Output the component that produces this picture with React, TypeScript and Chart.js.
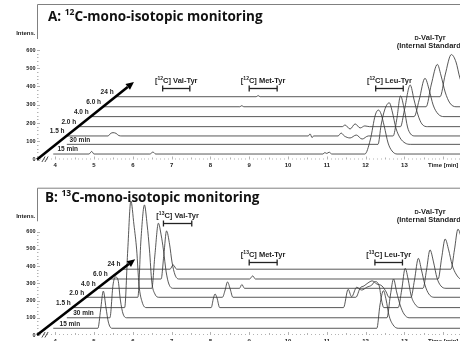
import React, { useEffect, useRef } from "react";
import { Chart, registerables } from "chart.js";

Chart.register(...registerables);

type Pt = [number, number];

// ---------- text / categories ----------
const TRACE_LABELS = ["15 min", "30 min", "1.5 h", "2.0 h", "4.0 h", "6.0 h", "24 h"];
const X_TICKS = [4, 5, 6, 7, 8, 9, 10, 11, 12, 13, 14];
const X_LAST_LABEL = "Time [min]";
const Y_TICKS = [0, 100, 200, 300, 400, 500, 600];
const Y_TITLE = "Intens.";
const Y_TITLE_AT = 690;
const COMPOUNDS = ["Val-Tyr", "Met-Tyr", "Leu-Tyr"];
const IS_LINE1 = "-Val-Tyr";
const IS_LINE2 = "(Internal Standard)";
const TITLE_REST = "C-mono-isotopic monitoring";

// ---------- panel A: 12C traces [time (min), intensity incl. waterfall offset] ----------
const A_15MIN: Pt[] = [[3.95, 30], [4.87, 30], [4.94, 44], [5.0, 30], [6.44, 30], [6.52, 41], [6.59, 30], [10.9, 30], [10.95, 38], [11.0, 33], [11.06, 40], [11.13, 30], [11.98, 30], [12.12, 107], [12.25, 244], [12.33, 271], [12.4, 249], [12.48, 183], [12.58, 90], [12.68, 47], [12.81, 30], [14.8, 30]];
const A_30MIN: Pt[] = [[4.3, 83], [12.32, 83], [12.4, 189], [12.49, 271], [12.61, 311], [12.69, 260], [12.78, 173], [12.89, 118], [13.02, 90], [13.15, 83], [14.8, 83]];
const A_1_5H: Pt[] = [[4.3, 129], [5.36, 129], [5.43, 143], [5.49, 147], [5.57, 143], [5.64, 131], [5.72, 129], [10.52, 129], [10.57, 140], [10.62, 120], [10.66, 129], [11.29, 129], [11.37, 145], [11.45, 129], [11.6, 118], [11.76, 134], [11.91, 112], [12.07, 129], [12.71, 129], [12.8, 216], [12.9, 348], [13.0, 271], [13.08, 178], [13.16, 140], [13.27, 129], [14.8, 129]];
const A_2H: Pt[] = [[4.6, 180], [11.4, 180], [11.47, 189], [11.6, 167], [11.73, 195], [11.86, 173], [11.98, 184], [12.1, 180], [12.9, 180], [13.0, 271], [13.15, 408], [13.25, 326], [13.35, 244], [13.45, 195], [13.6, 180], [14.8, 180]];
const A_4H: Pt[] = [[4.92, 235], [13.25, 235], [13.38, 326], [13.53, 445], [13.64, 381], [13.74, 299], [13.87, 249], [14.02, 235], [14.8, 235]];
const A_6H: Pt[] = [[5.24, 289], [8.76, 289], [8.81, 295], [8.86, 289], [13.56, 289], [13.69, 408], [13.85, 521], [13.94, 463], [14.05, 370], [14.17, 310], [14.33, 289], [14.8, 289]];
const A_24H: Pt[] = [[5.56, 344], [9.18, 344], [9.23, 350], [9.28, 344], [13.92, 344], [14.05, 463], [14.21, 575], [14.33, 534], [14.43, 447], [14.56, 381], [14.8, 350]];

// ---------- panel B: 13C traces ----------
const B_15MIN: Pt[] = [[3.95, 39], [5.1, 39], [5.17, 145], [5.24, 255], [5.31, 157], [5.37, 75], [5.46, 39], [12.29, 39], [12.37, 174], [12.46, 257], [12.53, 203], [12.6, 116], [12.71, 58], [12.84, 39], [14.8, 39]];
const B_30MIN: Pt[] = [[4.3, 100], [5.41, 100], [5.49, 290], [5.55, 337], [5.62, 319], [5.68, 203], [5.75, 122], [5.85, 100], [12.55, 100], [12.64, 232], [12.72, 325], [12.8, 250], [12.89, 174], [12.99, 122], [13.12, 100], [14.8, 100]];
const B_1_5H: Pt[] = [[4.44, 159], [5.79, 159], [5.87, 494], [5.95, 778], [6.03, 639], [6.1, 494], [6.16, 290], [6.24, 192], [6.34, 159], [8.02, 159], [8.08, 215], [8.12, 238], [8.17, 215], [8.24, 159], [11.43, 159], [11.55, 265], [11.64, 222], [11.77, 277], [11.9, 261], [12.03, 277], [12.16, 290], [12.24, 310], [12.35, 285], [12.41, 203], [12.47, 159], [12.84, 159], [12.93, 261], [13.02, 387], [13.1, 319], [13.17, 232], [13.27, 180], [13.4, 159], [14.8, 159]];
const B_2H: Pt[] = [[4.79, 219], [6.13, 219], [6.21, 552], [6.3, 755], [6.37, 639], [6.43, 494], [6.49, 308], [6.57, 238], [6.67, 219], [8.31, 219], [8.38, 261], [8.44, 308], [8.51, 267], [8.58, 219], [11.75, 219], [11.86, 273], [11.96, 285], [12.06, 302], [12.17, 314], [12.29, 296], [12.42, 285], [12.53, 250], [12.6, 219], [13.17, 219], [13.26, 319], [13.36, 445], [13.44, 377], [13.53, 290], [13.63, 238], [13.76, 219], [14.8, 219]];
const B_4H: Pt[] = [[5.09, 271], [6.49, 271], [6.57, 465], [6.66, 649], [6.73, 581], [6.79, 494], [6.86, 366], [6.93, 296], [7.04, 271], [8.75, 271], [8.81, 293], [8.88, 271], [13.48, 271], [13.57, 377], [13.66, 494], [13.75, 424], [13.84, 331], [13.94, 285], [14.07, 271], [14.8, 271]];
const B_6H: Pt[] = [[5.4, 325], [6.73, 325], [6.8, 465], [6.87, 604], [6.95, 523], [7.01, 424], [7.09, 348], [7.19, 325], [9.01, 325], [9.09, 343], [9.16, 325], [13.87, 325], [13.96, 447], [14.05, 557], [14.14, 494], [14.23, 407], [14.33, 354], [14.46, 325], [14.8, 325]];
const B_24H: Pt[] = [[5.72, 382], [6.96, 382], [7.04, 407], [7.13, 382], [14.2, 382], [14.29, 494], [14.38, 614], [14.48, 552], [14.61, 447], [14.8, 400]];

// ---------- annotation anchors (data units) ----------
const A_WINDOWS: Pt[] = [[6.77, 7.47], [9.0, 9.72], [12.26, 12.97]];
const A_BRACKET_Y = [390, 390, 390];
const B_WINDOWS: Pt[] = [[6.79, 7.52], [9.0, 9.72], [12.24, 12.95]];
const B_BRACKET_Y = [652, 424, 424];
const IS_LABEL_T = 13.66;
const A_IS_Y = 670;
const B_IS_Y = 716;
const A_ARROW_TIP: Pt = [6.03, 425];
const B_ARROW_TIP: Pt = [6.06, 440];
const X_MIN = 3.531;
const X_MAX = 14.433;
const FRAME_LOW = 660;

const FONT = '"Liberation Sans", Arial, sans-serif';
const TITLE_FONT = '"Open Sans", "Liberation Sans", sans-serif';

type Seg = [string, number, number];

function drawRich(ctx: CanvasRenderingContext2D, segs: Seg[], x: number, y: number, align: string, family = FONT) {
  const widths = segs.map(([t, s]) => {
    ctx.font = `bold ${s}px ${family}`;
    return ctx.measureText(t).width;
  });
  const total = widths.reduce((a, b) => a + b, 0);
  let cx = align === "center" ? x - total / 2 : align === "right" ? x - total : x;
  ctx.textAlign = "left";
  ctx.textBaseline = "alphabetic";
  segs.forEach(([t, s, rise], i) => {
    ctx.font = `bold ${s}px ${family}`;
    ctx.fillText(t, cx, y - rise);
    cx += widths[i];
  });
}

function line(ctx: CanvasRenderingContext2D, a: number, b: number, c: number, d: number) {
  ctx.beginPath();
  ctx.moveTo(a, b);
  ctx.lineTo(c, d);
  ctx.stroke();
}

interface Panel {
  letter: string;
  iso: string;
  traces: Pt[][];
  windows: Pt[];
  bracketY: number[];
  isY: number;
  tip: Pt;
  padTop: number;
  xAxisH: number;
  yMax: number;
  titleDx: number;
  titleDy: number;
}

const PANELS: Panel[] = [
  { letter: "A", iso: "12", traces: [A_15MIN, A_30MIN, A_1_5H, A_2H, A_4H, A_6H, A_24H], windows: A_WINDOWS, bracketY: A_BRACKET_Y, isY: A_IS_Y, tip: A_ARROW_TIP, padTop: 4, xAxisH: 15.5, yMax: 852, titleDx: 11, titleDy: 16.7 },
  { letter: "B", iso: "13", traces: [B_15MIN, B_30MIN, B_1_5H, B_2H, B_4H, B_6H, B_24H], windows: B_WINDOWS, bracketY: B_BRACKET_Y, isY: B_IS_Y, tip: B_ARROW_TIP, padTop: 15.7, xAxisH: 22, yMax: 855, titleDx: 8, titleDy: 13.8 },
];

function decor(panel: Panel) {
  return {
    id: "decor" + panel.letter,
    beforeDatasetsDraw(chart: any) {
      const { ctx, chartArea, scales } = chart;
      const { left, right, top, bottom } = chartArea;
      const x = scales.x, y = scales.y;
      ctx.save();
      ctx.strokeStyle = "#808080";
      ctx.lineWidth = 1;
      ctx.beginPath();
      ctx.moveTo(left + 0.5, y.getPixelForValue(FRAME_LOW));
      ctx.lineTo(left + 0.5, top + 0.5);
      ctx.lineTo(right, top + 0.5);
      ctx.stroke();
      ctx.strokeStyle = "#a0a0a0";
      ctx.lineWidth = 0.8;
      for (let v = 0; v <= 600; v += 20) {
        const py = Math.round(y.getPixelForValue(v)) + 0.5;
        line(ctx, left, py, left + (v % 100 === 0 ? 3 : 1.5), py);
      }
      for (let k = Math.ceil(X_MIN * 10); k <= X_MAX * 10; k++) {
        const px = Math.round(x.getPixelForValue(k / 10)) + 0.5;
        const len = k % 10 === 0 ? 3 : k % 5 === 0 ? 2 : 1;
        line(ctx, px, bottom, px, bottom - len);
      }
      ctx.restore();
    },
    afterDatasetsDraw(chart: any) {
      const { ctx, chartArea, scales } = chart;
      const { left, top } = chartArea;
      const x = scales.x, y = scales.y;
      ctx.save();
      // arrow
      const x0 = x.getPixelForValue(X_MIN), y0 = y.getPixelForValue(0);
      const x1 = x.getPixelForValue(panel.tip[0]), y1 = y.getPixelForValue(panel.tip[1]);
      const ang = Math.atan2(y1 - y0, x1 - x0);
      const hl = 8, hw = 3.6;
      const bx = x1 - hl * Math.cos(ang), by = y1 - hl * Math.sin(ang);
      ctx.strokeStyle = "#000";
      ctx.fillStyle = "#000";
      ctx.lineWidth = 2.6;
      line(ctx, x0, y0, bx, by);
      ctx.beginPath();
      ctx.moveTo(x1, y1);
      ctx.lineTo(bx + hw * Math.sin(ang), by - hw * Math.cos(ang));
      ctx.lineTo(bx - hw * Math.sin(ang), by + hw * Math.cos(ang));
      ctx.closePath();
      ctx.fill();
      // axis break
      ctx.lineWidth = 0.9;
      ctx.strokeStyle = "#333";
      [6.5, 9.5].forEach((d) => line(ctx, x0 + d - 1.6, y0 + 2.5, x0 + d + 1.6, y0 - 3));
      // trace labels
      const arrowX = (py: number) => x0 + ((y0 - py) * (x1 - x0)) / (y0 - y1);
      ctx.fillStyle = "#1e1e1e";
      panel.traces.forEach((tr, i) => {
        const ly = y.getPixelForValue(tr[0][1]) - 4.5;
        const ax = arrowX(ly);
        ctx.font = `bold 6.5px ${FONT}`;
        ctx.textBaseline = "middle";
        if (i < 2) {
          ctx.textAlign = "left";
          ctx.fillText(TRACE_LABELS[i], ax + 8, ly);
        } else {
          ctx.textAlign = "right";
          ctx.fillText(TRACE_LABELS[i], ax - 7.5, ly);
        }
      });
      // brackets
      ctx.strokeStyle = "#222";
      ctx.lineWidth = 1.3;
      panel.windows.forEach(([t0, t1], i) => {
        const xa = x.getPixelForValue(t0), xb = x.getPixelForValue(t1);
        const yy = Math.round(y.getPixelForValue(panel.bracketY[i])) + 0.5;
        line(ctx, xa, yy, xb, yy);
        line(ctx, xa, yy - 3, xa, yy + 3);
        line(ctx, xb, yy - 3, xb, yy + 3);
        drawRich(ctx, [["[", 7.5, 0], [panel.iso, 5, 2.6], ["C] " + COMPOUNDS[i], 7.5, 0]], (xa + xb) / 2, yy - 5.5, "center");
      });
      // internal standard label
      const ix = x.getPixelForValue(IS_LABEL_T), iy = y.getPixelForValue(panel.isY);
      drawRich(ctx, [["D", 5.8, 0], [IS_LINE1, 7.5, 0]], ix, iy + 2.7, "center");
      drawRich(ctx, [[IS_LINE2, 7.5, 0]], ix, iy + 10.4, "center");
      // title
      ctx.fillStyle = "#111";
      drawRich(ctx, [[panel.letter + ": ", 13.5, 0], [panel.iso, 8.5, 5.5], [TITLE_REST, 13.5, 0]], left + panel.titleDx, top + panel.titleDy, "left", TITLE_FONT);
      ctx.restore();
    },
  };
}

function makeChart(canvas: HTMLCanvasElement, panel: Panel) {
  return new Chart(canvas, {
    type: "line",
    data: {
      datasets: panel.traces.map((tr, i) => ({
        label: TRACE_LABELS[i],
        data: tr.map(([t, v]) => ({ x: t, y: v })),
        borderColor: "#3a3a3a",
        borderWidth: 0.85,
        pointRadius: 0,
        fill: false,
        cubicInterpolationMode: "monotone" as const,
      })),
    },
    options: {
      animation: false,
      responsive: false,
      devicePixelRatio: 1,
      layout: { padding: { top: panel.padTop, right: 0, bottom: 0, left: 0 } },
      plugins: { legend: { display: false }, tooltip: { enabled: false } },
      scales: {
        x: {
          type: "linear",
          min: X_MIN,
          max: X_MAX,
          afterBuildTicks: (s: any) => {
            s.ticks = X_TICKS.map((v) => ({ value: v }));
          },
          afterFit: (s: any) => {
            s.height = panel.xAxisH;
            s.paddingLeft = 0;
            s.paddingRight = 0;
          },
          ticks: {
            autoSkip: false,
            maxRotation: 0,
            padding: 2.5,
            color: "#222",
            font: { size: 6, weight: "bold", family: FONT },
            callback: (v: any) => (v === X_TICKS[X_TICKS.length - 1] ? X_LAST_LABEL : String(v)),
          },
          grid: { display: false, drawTicks: false },
          border: { display: false },
        },
        y: {
          type: "linear",
          min: 0,
          max: panel.yMax,
          afterBuildTicks: (s: any) => {
            s.ticks = [...Y_TICKS, Y_TITLE_AT].map((v) => ({ value: v }));
          },
          afterFit: (s: any) => {
            s.width = 37;
            s.paddingTop = 0;
            s.paddingBottom = 0;
          },
          ticks: {
            padding: 1.5,
            color: "#222",
            font: (c: any) => ({ size: c.tick && c.tick.value === Y_TITLE_AT ? 6 : 5.5, weight: "bold", family: FONT }),
            callback: (v: any) => (v === Y_TITLE_AT ? Y_TITLE : String(v)),
          },
          grid: { display: false, drawTicks: false },
          border: { display: false },
        },
      },
    } as any,
    plugins: [decor(panel)],
  });
}

export default function App() {
  const refA = useRef<HTMLCanvasElement>(null);
  const refB = useRef<HTMLCanvasElement>(null);
  useEffect(() => {
    const charts = [makeChart(refA.current!, PANELS[0]), makeChart(refB.current!, PANELS[1])];
    return () => charts.forEach((c) => c.destroy());
  }, []);
  return (
    <div style={{ position: "fixed", left: 0, top: 0, width: 460, height: 341, overflow: "hidden", background: "#fff" }}>
      <canvas ref={refA} width={460} height={175} style={{ position: "absolute", left: 0, top: 0, width: 460, height: 175 }} />
      <canvas ref={refB} width={460} height={185} style={{ position: "absolute", left: 0, top: 172, width: 460, height: 185 }} />
    </div>
  );
}
